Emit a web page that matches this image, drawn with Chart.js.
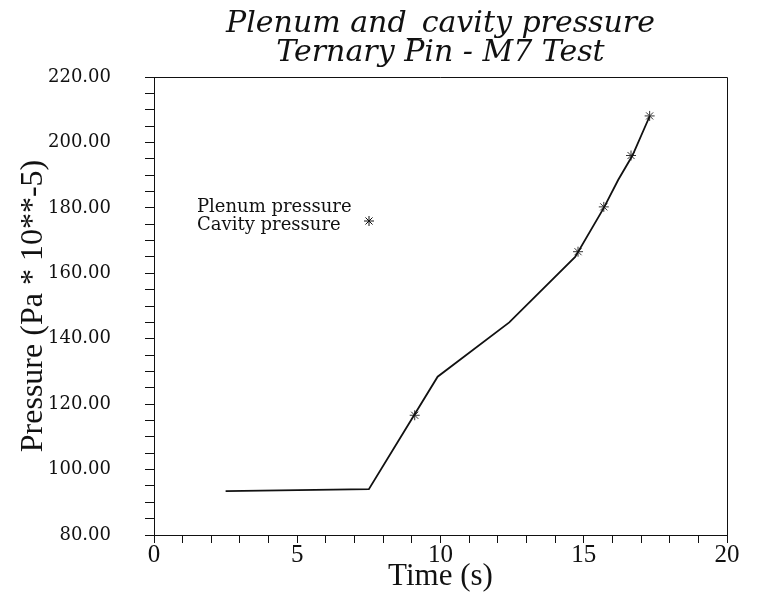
<!DOCTYPE html>
<html>
<head>
<meta charset="utf-8">
<script src="https://cdn.jsdelivr.net/npm/chart.js@4/dist/chart.umd.min.js"></script>
<style>
  html, body { margin: 0; padding: 0; background: #fff; }
  #wrap { width: 767px; height: 602px; }
</style>
</head>
<body>
<div id="wrap"><canvas id="chartPresion"></canvas></div>
<script>
// --- datos ---
const titleLines = ['Plenum and_cavity pressure', 'Ternary Pin - M7 Test'];
const plenumTime = [2.5, 7.5, 9.9, 12.4, 14.7, 15.7, 16.2, 16.7, 17.3];
const plenumPressure = [93.4, 94.0, 128.4, 145.0, 165.0, 180.0, 188.5, 196.0, 208.0];
const cavityTime = [9.1, 14.8, 15.7, 16.65, 17.3];
const cavityPressure = [116.6, 166.6, 180.3, 196.0, 208.1];
const legendLabels = ['Plenum pressure', 'Cavity pressure'];

const ink = '#111';

// marco superior y derecho del area de trazado
const framePlugin = {
    id: 'frame',
    afterDraw(chart) {
        const { ctx, chartArea: a } = chart;
        ctx.save();
        ctx.strokeStyle = ink;
        ctx.lineWidth = 1;
        ctx.beginPath();
        ctx.moveTo(a.left, a.top + 0.5);
        ctx.lineTo(a.right + 0.5, a.top + 0.5);
        ctx.lineTo(a.right + 0.5, a.bottom);
        ctx.stroke();
        ctx.restore();
    }
};

// leyenda dentro del area (como en el original)
const insideLegend = {
    id: 'insideLegend',
    afterDraw(chart) {
        const { ctx, chartArea: a } = chart;
        const x = a.left + 43;
        ctx.save();
        ctx.fillStyle = ink;
        ctx.font = '18px "DejaVu Serif"';
        ctx.textBaseline = 'middle';
        ctx.fillText(legendLabels[0], x, a.top + 130);
        ctx.fillText(legendLabels[1], x, a.top + 148);
        const sx = a.left + 215, sy = a.top + 144;
        if (Chart.helpers && Chart.helpers.drawPoint) {
            ctx.strokeStyle = ink;
            ctx.lineWidth = 1;
            Chart.helpers.drawPoint(ctx, { pointStyle: 'star', radius: 5, borderWidth: 1 }, sx, sy);
        }
        ctx.restore();
    }
};

function toPoints(xs, ys) {
    return xs.map((x, i) => ({ x: x, y: ys[i] }));
}

function createPressureChart(canvasId) {
    const ctx = document.getElementById(canvasId).getContext('2d');
    new Chart(ctx, {
        type: 'scatter',
        data: {
            datasets: [
                {
                    label: legendLabels[0],
                    data: toPoints(plenumTime, plenumPressure),
                    showLine: true, borderColor: ink, borderWidth: 1.8,
                    pointRadius: 0, tension: 0
                },
                {
                    label: legendLabels[1],
                    data: toPoints(cavityTime, cavityPressure),
                    showLine: false, pointStyle: 'star', pointRadius: 5,
                    borderColor: '#333', borderWidth: 1, backgroundColor: '#333'
                }
            ]
        },
        options: {
            responsive: true, maintainAspectRatio: false, animation: false,
            layout: { padding: { left: 0, right: 40, top: 0, bottom: 0 } },
            plugins: {
                legend: { display: false },
                tooltip: { enabled: false },
                title: {
                    display: true, text: titleLines, color: ink, fullSize: false,
                    font: { family: '"DejaVu Serif"', size: 30, style: 'italic', weight: 'normal', lineHeight: 0.95 },
                    padding: { top: 10, bottom: 10 }
                }
            },
            scales: {
                x: {
                    type: 'linear', min: 0, max: 20,
                    afterFit: function(s) { s.height = 67; },
                    border: { display: true, color: ink, width: 1 },
                    grid: { drawOnChartArea: false, color: ink, tickLength: 8 },
                    ticks: {
                        stepSize: 1, autoSkip: false, maxRotation: 0, color: ink, padding: 0,
                        font: { family: '"Liberation Serif"', size: 25, lineHeight: 1 },
                        callback: function(v) { return v % 5 === 0 ? String(v) : ''; }
                    },
                    title: {
                        display: true, text: 'Time (s)', color: ink,
                        font: { family: '"Liberation Serif"', size: 31 },
                        padding: { top: 0, bottom: 7 }
                    }
                },
                y: {
                    min: 80, max: 220,
                    afterFit: function(s) { s.width = 154; },
                    border: { display: true, color: ink, width: 1 },
                    grid: { drawOnChartArea: false, color: ink, tickLength: 9 },
                    ticks: {
                        stepSize: 5, autoSkip: false, color: ink, padding: 34,
                        font: { family: '"DejaVu Serif"', size: 18 },
                        callback: function(v) { return v % 20 === 0 ? v.toFixed(2) : ''; }
                    },
                    title: {
                        display: true, text: 'Pressure (Pa * 10**-5)', color: ink,
                        font: { family: '"Liberation Serif"', size: 32 },
                        padding: { top: 14, bottom: 0 }
                    }
                }
            }
        },
        plugins: [framePlugin, insideLegend]
    });
}

document.addEventListener('DOMContentLoaded', () => {
    createPressureChart('chartPresion');
});
</script>
</body>
</html>
